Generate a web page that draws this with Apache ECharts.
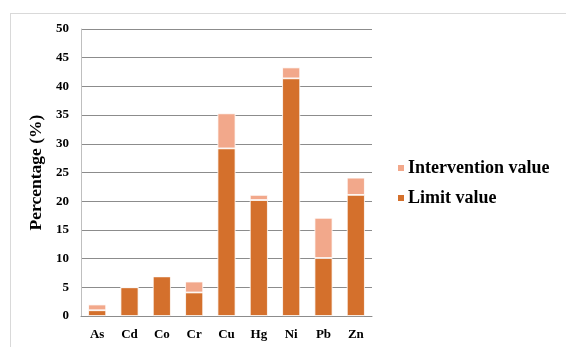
<!DOCTYPE html>
<html>
<head>
<meta charset="utf-8">
<script src="https://cdn.jsdelivr.net/npm/echarts@6/dist/echarts.min.js"></script>
<style>
html,body{margin:0;padding:0;background:#fff;}
#c{width:566px;height:347px;}
</style>
</head>
<body>
<div id="c"></div>
<script>
var categories = ['As','Cd','Co','Cr','Cu','Hg','Ni','Pb','Zn'];
var limitValues = [1.0, 5.0, 6.9, 4.1, 29.2, 20.2, 41.4, 10.1, 21.1];
var interventionValues = [1.0, 0, 0, 1.9, 6.1, 0.9, 1.9, 7.0, 3.0];
var yTicks = [0, 5, 10, 15, 20, 25, 30, 35, 40, 45, 50];

var serif = '"Liberation Serif", "Times New Roman", serif';
var chart = echarts.init(document.getElementById('c'), null, {renderer: 'canvas'});
chart.setOption({
  animation: false,
  backgroundColor: '#fff',
  graphic: [
    {type: 'line', shape: {x1: 10, y1: 13.5, x2: 566, y2: 13.5}, style: {stroke: '#d9d9d9', lineWidth: 1}},
    {type: 'line', shape: {x1: 10.5, y1: 13, x2: 10.5, y2: 347}, style: {stroke: '#d9d9d9', lineWidth: 1}}
  ],
  grid: {left: 81, right: 194, top: 29, bottom: 31},
  legend: {
    data: ['Intervention value', 'Limit value'],
    orient: 'vertical',
    left: 391,
    top: 154,
    itemWidth: 8,
    itemHeight: 8,
    itemGap: 12,
    icon: 'rect',
    textStyle: {fontFamily: serif, fontWeight: 'bold', fontSize: 18, color: '#000', lineHeight: 18, padding: [0, 0, 0, -2]}
  },
  xAxis: {
    type: 'category',
    data: categories,
    axisTick: {show: false},
    axisLine: {lineStyle: {color: '#8c8c8c', width: 1}},
    axisLabel: {fontFamily: serif, fontWeight: 'bold', fontSize: 13, color: '#000', margin: 12}
  },
  yAxis: {
    type: 'value',
    min: yTicks[0],
    max: yTicks[yTicks.length - 1],
    interval: 5,
    name: 'Percentage (%)',
    nameLocation: 'middle',
    nameGap: 36,
    nameTextStyle: {fontFamily: serif, fontWeight: 'bold', fontSize: 17.5, color: '#000'},
    axisLine: {show: true, lineStyle: {color: '#bfbfbf'}},
    axisTick: {show: false},
    splitLine: {lineStyle: {color: '#8c8c8c', width: 1}},
    axisLabel: {fontFamily: serif, fontWeight: 'bold', fontSize: 13, color: '#000', margin: 12}
  },
  series: [
    {
      name: 'Limit value',
      type: 'bar',
      stack: 'total',
      barWidth: 18,
      data: limitValues,
      itemStyle: {color: '#d4702c', borderColor: '#fff', borderWidth: 0.8}
    },
    {
      name: 'Intervention value',
      type: 'bar',
      stack: 'total',
      barWidth: 18,
      data: interventionValues,
      itemStyle: {color: '#f2a88b', borderColor: '#fff', borderWidth: 0.8}
    }
  ]
});
</script>
</body>
</html>
